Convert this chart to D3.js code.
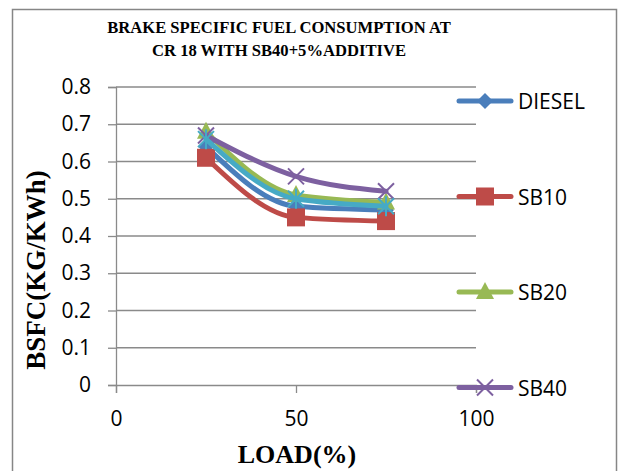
<!DOCTYPE html>
<html>
<head>
<meta charset="utf-8">
<script src="https://cdn.jsdelivr.net/npm/d3@7"></script>
<style>
  body { margin: 0; background: #fff; }
  #chart { width: 621px; height: 471px; }
</style>
</head>
<body>
<div id="chart"></div>
<script>
// Chart data
const loads = [25, 50, 75];
const diesel = [0.64, 0.48, 0.47];
const sb10 = [0.61, 0.45, 0.44];
const sb20 = [0.68, 0.51, 0.49];
const sb40 = [0.67, 0.56, 0.52];
const sb40add = [0.66, 0.50, 0.48];
const xTicks = [0, 50, 100];
const yTicks = [0, 0.1, 0.2, 0.3, 0.4, 0.5, 0.6, 0.7, 0.8];

const series = [
  { name: 'DIESEL', values: diesel, color: '#4a7ebb', marker: 'diamond', legend: true },
  { name: 'SB10', values: sb10, color: '#be4b48', marker: 'square', legend: true },
  { name: 'SB20', values: sb20, color: '#98b954', marker: 'triangle', legend: true },
  { name: 'SB40', values: sb40, color: '#7d60a0', marker: 'x', legend: true },
  { name: 'SB40+5%ADDITIVE', values: sb40add, color: '#46aac5', marker: 'star', legend: false }
];

const width = 621, height = 471;
const svg = d3.select('#chart').append('svg')
  .attr('width', width)
  .attr('height', height);

// outer frame
svg.append('rect')
  .attr('x', 12.5).attr('y', 9.5)
  .attr('width', 604).attr('height', 480)
  .attr('fill', 'none')
  .attr('stroke', '#868686')
  .attr('stroke-width', 1.5);

const x = d3.scaleLinear().domain([0, 100]).range([116, 476]);
const y = d3.scaleLinear().domain([0, 0.8]).range([385, 87]);

const grid = '#8a8a8a';
const tickFont = '"Open Sans", sans-serif';

// horizontal gridlines
svg.append('g').selectAll('line')
  .data(yTicks.slice(1))
  .join('line')
  .attr('x1', x(0)).attr('x2', x(100))
  .attr('y1', d => y(d)).attr('y2', d => y(d))
  .attr('stroke', grid).attr('stroke-width', 1.3);

// axes
const yAxis = svg.append('g')
  .attr('transform', `translate(${x(0)},0)`)
  .call(d3.axisLeft(y).tickValues(yTicks).tickSize(8).tickPadding(17)
    .tickFormat(d => d === 0 ? '0' : d3.format('.1f')(d)));
const xAxis = svg.append('g')
  .attr('transform', `translate(0,${y(0)})`)
  .call(d3.axisBottom(x).tickValues(xTicks).tickSize(8).tickPadding(18));

[yAxis, xAxis].forEach(a => {
  a.select('.domain').attr('stroke', grid).attr('stroke-width', 1.3);
  a.selectAll('.tick line').attr('stroke', grid).attr('stroke-width', 1.3);
  a.selectAll('.tick text')
    .attr('fill', '#000')
    .style('font-family', tickFont)
    .style('font-size', '21px');
});

// markers
function drawMarker(g, type, color) {
  if (type === 'diamond') {
    g.append('path').attr('d', 'M0,-8L8,0L0,8L-8,0Z').attr('fill', color);
  } else if (type === 'square') {
    g.append('rect').attr('x', -9).attr('y', -9).attr('width', 18).attr('height', 18).attr('fill', color);
  } else if (type === 'triangle') {
    g.append('path').attr('d', 'M0,-10L9,7L-9,7Z').attr('fill', color);
  } else if (type === 'x') {
    g.append('path').attr('d', 'M-8,-8L8,8M-8,8L8,-8').attr('stroke', color).attr('stroke-width', 2);
  } else if (type === 'star') {
    g.append('path').attr('d', 'M-8,-8L8,8M-8,8L8,-8M0,-10L0,10').attr('stroke', color).attr('stroke-width', 2);
  }
}

const line = d3.line()
  .x((d, i) => x(loads[i]))
  .y(d => y(d))
  .curve(d3.curveMonotoneX);

series.forEach(s => {
  svg.append('path')
    .datum(s.values)
    .attr('d', line)
    .attr('fill', 'none')
    .attr('stroke', s.color)
    .attr('stroke-width', 5)
    .attr('stroke-linecap', 'round')
    .attr('stroke-linejoin', 'round');
  s.values.forEach((v, i) => {
    const g = svg.append('g').attr('transform', `translate(${x(loads[i])},${y(v)})`);
    drawMarker(g, s.marker, s.color);
  });
});

// legend
const legend = svg.append('g');
series.filter(s => s.legend).forEach((s, i) => {
  const ly = 101 + i * 95.5;
  const row = legend.append('g').attr('transform', `translate(0,${ly})`);
  row.append('line')
    .attr('x1', 459).attr('x2', 511)
    .attr('stroke', s.color).attr('stroke-width', 5)
    .attr('stroke-linecap', 'round');
  const m = row.append('g').attr('transform', 'translate(485,0)');
  drawMarker(m, s.marker, s.color);
  row.append('text')
    .attr('x', 518).attr('y', 8)
    .style('font-family', tickFont)
    .style('font-size', '21px')
    .attr('fill', '#000')
    .text(s.name);
});

// titles
const title = svg.append('text')
  .attr('text-anchor', 'middle')
  .style('font-family', '"Liberation Serif", serif')
  .style('font-weight', 'bold')
  .style('font-size', '16.6px');
title.append('tspan').attr('x', 279).attr('y', 33).text('BRAKE SPECIFIC FUEL CONSUMPTION AT');
title.append('tspan').attr('x', 279).attr('y', 56).text('CR 18 WITH SB40+5%ADDITIVE');

svg.append('text')
  .attr('x', 297).attr('y', 463)
  .attr('text-anchor', 'middle')
  .style('font-family', '"Liberation Serif", serif')
  .style('font-weight', 'bold')
  .style('font-size', '26px')
  .text('LOAD(%)');

svg.append('text')
  .attr('transform', 'translate(45,270) rotate(-90)')
  .attr('text-anchor', 'middle')
  .style('font-family', '"Liberation Serif", serif')
  .style('font-weight', 'bold')
  .style('font-size', '27px')
  .text('BSFC(KG/KWh)');
</script>
</body>
</html>
